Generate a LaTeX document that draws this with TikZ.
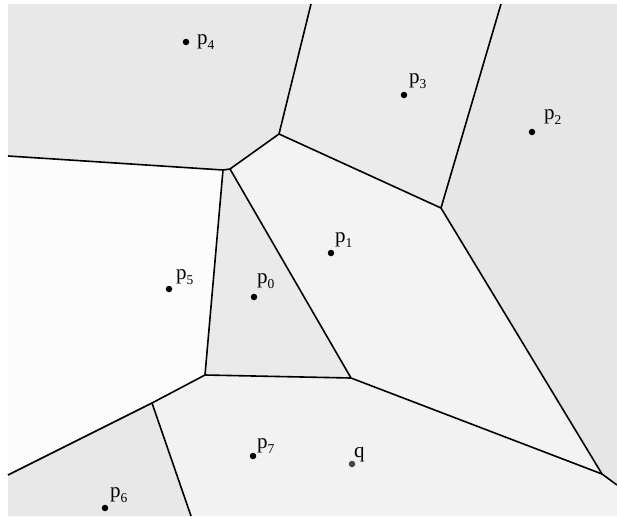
\documentclass[tikz,border=0pt]{standalone}
\usepackage{fontspec}
\setmainfont{Liberation Serif}
\usetikzlibrary{calc}
\definecolor{cellA}{HTML}{E8E8E8}
\definecolor{cellB}{HTML}{EBEBEB}
\definecolor{cellC}{HTML}{E6E6E6}
\definecolor{cellD}{HTML}{F3F3F3}
\definecolor{cellE}{HTML}{FCFCFC}
\definecolor{cellF}{HTML}{EAEAEA}
\definecolor{cellG}{HTML}{F2F2F2}
\definecolor{qdot}{HTML}{454545}
\newcommand{\idx}[1]{\raisebox{-5pt}{\fontsize{13.5}{13.5}\selectfont #1}}

\begin{document}
\begin{tikzpicture}[x=1pt, y=-1pt,
    site/.style={circle, fill=black, inner sep=0pt, minimum size=6.5pt},
    lbl/.style={anchor=base west, inner sep=0pt, font=\fontsize{21}{21}\selectfont},
    edge/.style={line width=1.6pt, line join=round}]
    \useasboundingbox (0,0) rectangle (617,516);

    % frame
    \coordinate (tl) at (8,4);
    \coordinate (tr) at (617,4);
    \coordinate (br) at (617,516);
    \coordinate (bl) at (8,516);

    % Voronoi vertices
    \coordinate (a1) at (223,170);
    \coordinate (a2) at (230,169);
    \coordinate (b) at (279,134);
    \coordinate (c) at (441,208);
    \coordinate (d) at (205,375);
    \coordinate (e) at (351,378);
    \coordinate (f) at (602,474);
    \coordinate (g) at (152,403);

    % where the edges leave the frame
    \coordinate (t34) at (311,4);
    \coordinate (t23) at (501,4);
    \coordinate (l45) at (8,156);
    \coordinate (l56) at (8,475);
    \coordinate (r27) at (617,485);
    \coordinate (b67) at (191,516);

    % cells
    \fill[cellA] (tl) -- (t34) -- (b) -- (a2) -- (a1) -- (l45) -- cycle;
    \fill[cellB] (t34) -- (t23) -- (c) -- (b) -- cycle;
    \fill[cellC] (t23) -- (tr) -- (r27) -- (f) -- (c) -- cycle;
    \fill[cellD] (b) -- (c) -- (f) -- (e) -- (a2) -- cycle;
    \fill[cellF] (a2) -- (e) -- (d) -- (a1) -- cycle;
    \fill[cellE] (l45) -- (a1) -- (d) -- (g) -- (l56) -- cycle;
    \fill[cellA] (l56) -- (g) -- (b67) -- (bl) -- cycle;
    \fill[cellG] (g) -- (d) -- (e) -- (f) -- (r27) -- (br) -- (b67) -- cycle;

    % edges
    \draw[edge] (l45) -- (a1) -- (a2) -- (b) -- (t34);
    \draw[edge] (b) -- (c) -- (t23);
    \draw[edge] (c) -- (f) -- (r27);
    \draw[edge] (a1) -- (d) -- (e) -- (f);
    \draw[edge] (a2) -- (e);
    \draw[edge] (l56) -- (g) -- (d);
    \draw[edge] (g) -- (b67);

    % sites
    \node[site] (p0) at (254,297) {};
    \node[site] (p1) at (331,253) {};
    \node[site] (p2) at (532,132) {};
    \node[site] (p3) at (404,95) {};
    \node[site] (p4) at (186,42) {};
    \node[site] (p5) at (169,289) {};
    \node[site] (p6) at (105,508) {};
    \node[site] (p7) at (253,456) {};
    \node[site, fill=qdot] (q) at (352,464) {};

    % labels
    \node[lbl] (l0) at (257,283) {p\idx{0}};
    \node[lbl] (l1) at (335,242) {p\idx{1}};
    \node[lbl] (l2) at (544,119) {p\idx{2}};
    \node[lbl] (l3) at (409,84) {p\idx{3}};
    \node[lbl] (l4) at (197,45) {p\idx{4}};
    \node[lbl] (l5) at (176,279) {p\idx{5}};
    \node[lbl] (l6) at (110,497) {p\idx{6}};
    \node[lbl] (l7) at (257,448) {p\idx{7}};
    \node[lbl] (lq) at (354,457) {q};
\end{tikzpicture}
\end{document}
